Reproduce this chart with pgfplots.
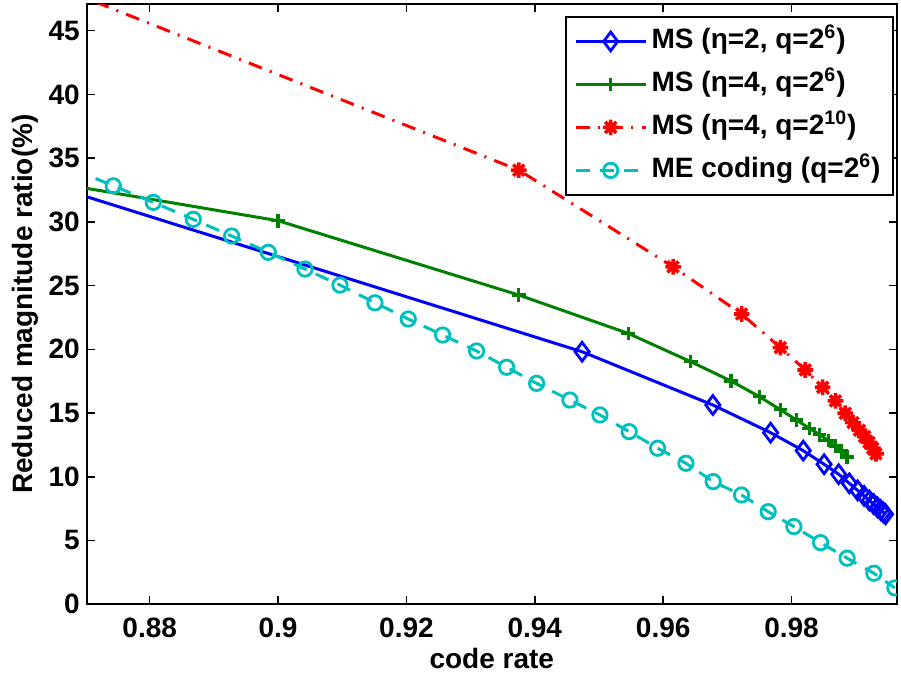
\documentclass[border=0pt]{standalone}
\usepackage{fontspec}
\setmainfont{Liberation Sans}
\usepackage{pgfplots}
\pgfplotsset{compat=1.18}
\definecolor{mgreen}{rgb}{0,0.5,0}
\definecolor{mcyan}{rgb}{0,0.75,0.75}
\pgfdeclareplotmark{mstar}{%
  \pgfpathmoveto{\pgfqpoint{-\pgfplotmarksize}{0pt}}%
  \pgfpathlineto{\pgfqpoint{\pgfplotmarksize}{0pt}}%
  \pgfpathmoveto{\pgfqpoint{0pt}{-\pgfplotmarksize}}%
  \pgfpathlineto{\pgfqpoint{0pt}{\pgfplotmarksize}}%
  \pgfpathmoveto{\pgfqpoint{-.7071\pgfplotmarksize}{-.7071\pgfplotmarksize}}%
  \pgfpathlineto{\pgfqpoint{.7071\pgfplotmarksize}{.7071\pgfplotmarksize}}%
  \pgfpathmoveto{\pgfqpoint{-.7071\pgfplotmarksize}{.7071\pgfplotmarksize}}%
  \pgfpathlineto{\pgfqpoint{.7071\pgfplotmarksize}{-.7071\pgfplotmarksize}}%
  \pgfusepathqstroke
}
\newcommand{\cf}{\fontsize{14bp}{16bp}\selectfont\bfseries}
\begin{document}
\begin{tikzpicture}
\begin{axis}[
  scale only axis, width=405bp, height=300bp,
  xmin=0.8702, xmax=0.9964, ymin=0, ymax=47.08,
  xtick={0.88,0.9,0.92,0.94,0.96,0.98},
  ytick={0,5,10,15,20,25,30,35,40,45},
  axis line style={line width=1bp},
  major tick length=4bp,
  major tick style={black, line width=0.75bp},
  tick align=inside,
  tick label style={font=\cf},
  label style={font=\cf},
  /pgf/number format/assume math mode=true,
  xticklabel style={yshift=-3.2bp},
  xlabel={code rate},
  ylabel={Reduced magnitude ratio(\%)},
  xlabel style={at={(axis description cs:0.5,0)}, anchor=base, yshift=-31.9bp},
  ylabel style={at={(axis description cs:-0.0765,0.5)}, anchor=center},
  clip marker paths=true,
  legend cell align=left,
  legend style={at={(0.9963,0.98)}, anchor=north east, draw=black, line width=0.75bp,
    fill=white, font=\cf, inner xsep=4bp, inner ysep=1.5bp, row sep=0bp,
    nodes={inner xsep=2.25bp, inner ysep=3.5bp, text height=11bp, text depth=3.5bp}},
  legend image code/.code={\draw[mark repeat=2,mark phase=2,#1] plot coordinates {(0bp,0bp) (17.5bp,0bp) (35bp,0bp)};},
]
\addplot[color=blue, line width=1.5bp, mark=diamond, mark size=4.7bp, mark options={solid, line width=1.4bp}] coordinates {
(0.85714,34.03) (0.94737,19.81) (0.96774,15.63) (0.97674,13.46) (0.98182,12.05)
(0.98507,10.98) (0.98734,10.20) (0.98901,9.48) (0.99029,8.93) (0.99130,8.50)
(0.99213,8.14) (0.99281,7.85) (0.99338,7.60) (0.99387,7.39) (0.99429,7.21) (0.99465,7.06)
};
\addlegendentry{MS (η=2, q=2\textsuperscript{6})}
\addplot[color=mgreen, line width=1.5bp, mark=+, mark size=3.4bp, mark options={solid, line width=1.7bp}] coordinates {
(0.75,42.87) (0.9,30.09) (0.9375,24.26) (0.95455,21.25) (0.96429,19.03)
(0.97059,17.51) (0.975,16.28) (0.97826,15.26) (0.98077,14.45) (0.98276,13.80)
(0.98438,13.30) (0.98571,12.85) (0.98684,12.42) (0.98780,12.03) (0.98864,11.55)
};
\addlegendentry{MS (η=4, q=2\textsuperscript{6})}
\addplot[color=red, line width=1.5bp, dash pattern=on 7bp off 4.25bp on 1bp off 4.25bp, mark=mstar, mark size=3.9bp, mark options={solid, line width=1.8bp}] coordinates {
(0.83333,54.9) (0.9375,34.06) (0.96154,26.47) (0.97222,22.77) (0.97826,20.13)
(0.98214,18.38) (0.98485,17.02) (0.98684,15.95) (0.98837,14.98) (0.98958,14.25)
(0.99057,13.65) (0.99138,13.15) (0.99206,12.70) (0.99265,12.25) (0.99315,11.80)
};
\addlegendentry{MS (η=4, q=2\textsuperscript{10})}
\addplot[color=mcyan, line width=1.5bp, dash pattern=on 7bp off 5bp, mark=o, mark size=3.6bp, mark options={solid, line width=1.4bp}] coordinates {
(0.86810,34.12) (0.87433,32.83) (0.88056,31.53) (0.88679,30.20) (0.89277,28.89)
(0.89847,27.61) (0.90419,26.30) (0.90964,25.04) (0.91509,23.65) (0.92028,22.38)
(0.92564,21.12) (0.93093,19.87) (0.93561,18.59) (0.94028,17.33) (0.94547,16.02)
(0.95014,14.85) (0.95470,13.54) (0.95913,12.24) (0.96354,11.06) (0.96779,9.62)
(0.97221,8.57) (0.97636,7.26) (0.98036,6.09) (0.98452,4.83) (0.98866,3.61)
(0.99282,2.43) (0.99609,1.28)
};
\addlegendentry{ME coding (q=2\textsuperscript{6})}
\end{axis}
\pgfresetboundingbox
\path ([shift={(-43.4bp,-35.4bp)}]current axis.south west) rectangle ([shift={(2.1bp,2.1bp)}]current axis.north east);
\end{tikzpicture}
\end{document}
